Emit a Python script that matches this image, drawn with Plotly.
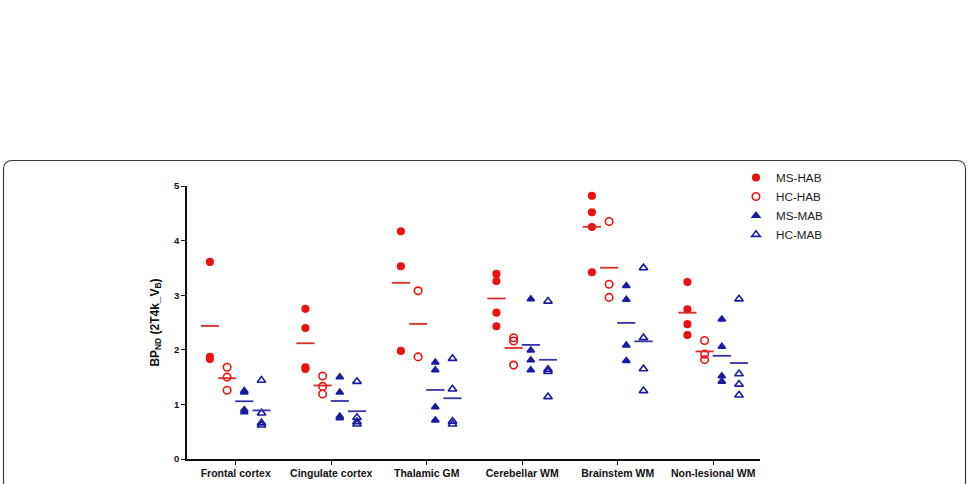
import numpy as np
import plotly.graph_objects as go

categories = ["Frontal cortex", "Cingulate cortex", "Thalamic GM",
              "Cerebellar WM", "Brainstem WM", "Non-lesional WM"]

ms_hab = [[3.61, 1.87, 1.83],
          [2.75, 2.40, 1.68, 1.65],
          [4.17, 3.53, 1.98],
          [3.39, 3.26, 2.68, 2.43],
          [4.82, 4.52, 4.25, 3.42],
          [3.24, 2.74, 2.47, 2.27]]
hc_hab = [[1.68, 1.50, 1.26],
          [1.52, 1.33, 1.19],
          [3.08, 1.87],
          [2.22, 2.16, 1.72],
          [4.35, 3.20, 2.96],
          [2.17, 1.92, 1.82]]
ms_mab = [[1.25, 1.22, 0.90, 0.86],
          [1.50, 1.22, 0.78, 0.75],
          [1.77, 1.63, 0.95, 0.71],
          [2.93, 1.99, 1.81, 1.63],
          [3.17, 2.92, 2.08, 1.80],
          [2.56, 2.06, 1.52, 1.42]]
hc_mab = [[1.44, 0.84, 0.66, 0.62],
          [1.42, 0.76, 0.68, 0.64],
          [1.84, 1.28, 0.69, 0.64],
          [2.89, 1.64, 1.60, 1.14],
          [3.50, 2.22, 1.65, 1.25],
          [2.93, 1.56, 1.37, 1.17]]

series_names = ["MS-HAB", "HC-HAB", "MS-MAB", "HC-MAB"]
y_ticks = [0, 1, 2, 3, 4, 5]

RED = "#ee1111"
RED_LINE = "#dd2a2a"
BLUE = "#1a1aa6"
BLUE_LINE = "#3535a8"

styles = [
    dict(symbol="circle", color=RED, line_color=RED_LINE, size=6.5),
    dict(symbol="circle-open", color=RED, line_color=RED_LINE, size=7.5),
    dict(symbol="triangle-up", color=BLUE, line_color=BLUE_LINE, size=6.5),
    dict(symbol="triangle-up-open", color=BLUE, line_color=BLUE_LINE, size=7.5),
]
offsets = [-0.27, -0.09, 0.09, 0.27]
half_w = 0.095

fig = go.Figure()
all_series = [ms_hab, hc_hab, ms_mab, hc_mab]
for s, (name, data, st, off) in enumerate(zip(series_names, all_series, styles, offsets)):
    xs, ys = [], []
    for i, vals in enumerate(data):
        xs += [i + off] * len(vals)
        ys += vals
    fig.add_trace(go.Scatter(
        x=xs, y=ys, mode="markers", name=name,
        marker=dict(symbol=st["symbol"], color=st["color"], size=st["size"],
                    line=dict(color=st["color"], width=1.6)),
        cliponaxis=False,
    ))
    lx, ly = [], []
    for i, vals in enumerate(data):
        m = float(np.mean(vals))
        lx += [i + off - half_w, i + off + half_w, None]
        ly += [m, m, None]
    fig.add_trace(go.Scatter(x=lx, y=ly, mode="lines", showlegend=False,
                             line=dict(color=st["line_color"], width=1.8),
                             hoverinfo="skip", cliponaxis=False))

# plot area geometry in pixels
W, H = 969, 484
ml, mr, mt, mb = 187, 209, 186, 25
pw, ph = W - ml - mr, H - mt - mb

def px(x):
    return (x - ml) / pw

def py(y):
    return (H - mb - y) / ph

# rounded border box (open at the bottom, cut by the image edge)
x0, x1, yt, yb = px(3.5), px(965.5), py(160.5), py(500)
rx, ry = 9 / pw, 9 / ph
path = (f"M {x0},{yb} L {x0},{yt - ry} Q {x0},{yt} {x0 + rx},{yt} "
        f"L {x1 - rx},{yt} Q {x1},{yt} {x1},{yt - ry} L {x1},{yb}")
fig.add_shape(type="path", path=path, xref="paper", yref="paper",
              line=dict(color="#3a3a3a", width=1.2), layer="below")

fig.update_layout(
    width=W, height=H,
    margin=dict(l=ml, r=mr, t=mt, b=mb, autoexpand=False),
    paper_bgcolor="white", plot_bgcolor="white",
    font=dict(family="Liberation Sans, Arial, sans-serif", color="#111"),
    showlegend=True,
    legend=dict(x=px(736), y=py(163), xanchor="left", yanchor="top",
                font=dict(size=11.7, color="#222"), bgcolor="rgba(0,0,0,0)",
                tracegroupgap=0, itemwidth=30),
    xaxis=dict(range=[-0.51, 5.49], tickvals=list(range(len(categories))),
               ticktext=[f"<b>{c}</b>" for c in categories],
               showgrid=False, zeroline=False, showline=True,
               linecolor="#111", linewidth=1.5, automargin=False,
               ticks="outside", ticklen=4, tickwidth=1.2, tickcolor="#111",
               tickfont=dict(size=10.5, color="#111")),
    yaxis=dict(range=[0, 5], tickvals=y_ticks,
               ticktext=[f"<b>{t}</b>" for t in y_ticks],
               showgrid=False, zeroline=False, showline=True,
               linecolor="#111", linewidth=1.5, automargin=False,
               ticks="outside", ticklen=4, tickwidth=1.2, tickcolor="#111",
               tickfont=dict(size=9.5, color="#111"),
               title=dict(text="<b>BP<sub>ND</sub> (2T4k_V<sub>B</sub>)</b>",
                          font=dict(size=12, color="#111"), standoff=12)),
)

fig.write_html("out.html")
